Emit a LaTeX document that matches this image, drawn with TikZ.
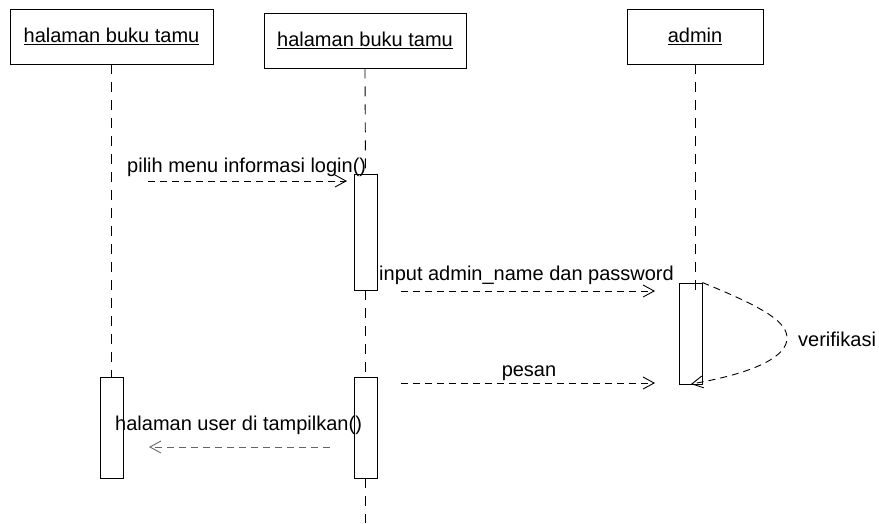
\documentclass[tikz,border=0pt]{standalone}
\usepackage{fontspec}
\setmainfont{Liberation Sans}
\usepackage{tikz}
\usetikzlibrary{arrows.meta}

\tikzset{
  head/.style={draw, line width=0.9pt, minimum height=55pt, inner sep=0pt, font=\fontsize{20}{24}\selectfont},
  actbox/.style={draw, line width=0.9pt, minimum width=23pt, inner sep=0pt},
  lifeline/.style={line width=0.9pt, dash pattern=on 10pt off 8pt},
  msg/.style={line width=0.9pt, dash pattern=on 7pt off 5pt, -{Straight Barb[length=11pt,width=12pt]}},
  lbl/.style={inner sep=0pt, font=\fontsize{20}{24}\selectfont},
}

\begin{document}
\begin{tikzpicture}[x=1pt,y=-1pt]
\useasboundingbox (0,0) rectangle (879,523);

% objects
\node[head, minimum width=203pt] (tamuA) at (111.5,36.5) {\underline{halaman buku tamu}};
\node[head, minimum width=202pt] (tamuB) at (365,40.5) {\underline{halaman buku tamu}};
\node[head, minimum width=136pt] (admin) at (695,36.5) {\underline{admin}};

% activations
\node[actbox, minimum height=116pt] (actB1) at (365.5,232) {};
\node[actbox, minimum height=101pt] (actAdm) at (690.5,333.5) {};
\node[actbox, minimum height=101pt] (actA) at (111.5,427.5) {};
\node[actbox, minimum height=101pt] (actB2) at (365.5,427.5) {};

% lifelines
\coordinate (endB) at (365.5,523);
\coordinate (endAdm) at (695,290);
\draw[lifeline] (tamuA.south) -- (actA.north);
\draw[lifeline] (tamuB.south) -- (actB1.north);
\draw[lifeline] (actB1.south) -- (actB2.north);
\draw[lifeline] (actB2.south) -- (endB);
\draw[lifeline] (admin.south) -- (endAdm);

% messages
\coordinate (m1s) at (148,181);
\coordinate (m1e) at (347,181);
\draw[msg] (m1s) -- (m1e);
\node[lbl, anchor=base west] (pilih) at (127,172) {pilih menu informasi login()};

\coordinate (m2s) at (401,291);
\coordinate (m2e) at (655,291);
\draw[msg] (m2s) -- (m2e);
\node[lbl, anchor=base west] (input) at (379,280) {input admin\_name dan password};

% self call
\coordinate (tip) at (787,338);
\coordinate (m5e) at (691,384);
\draw[msg] (actAdm.north east) .. controls (765,308) and (787,322) .. (tip)
  .. controls (787,355) and (760,372) .. (m5e);
\node[lbl, anchor=base west] (verif) at (798,346) {verifikasi};

\coordinate (m3s) at (401,383);
\coordinate (m3e) at (655,383);
\draw[msg] (m3s) -- (m3e);
\node[lbl, anchor=base] (pesan) at (529,376) {pesan};

\coordinate (m4s) at (330,447);
\coordinate (m4e) at (149,447);
\draw[msg, black!60] (m4s) -- (m4e);
\node[lbl, anchor=base west] (tampil) at (115,430) {halaman user di tampilkan()};

\end{tikzpicture}
\end{document}
